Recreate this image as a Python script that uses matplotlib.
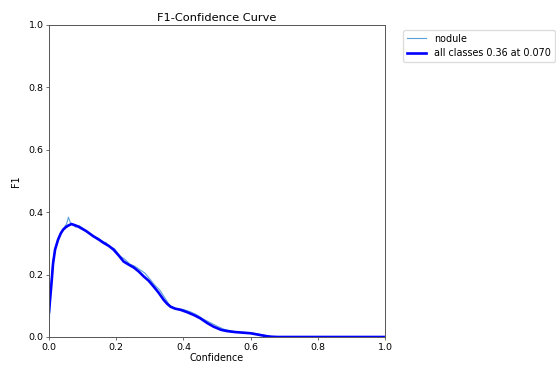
import matplotlib.pyplot as plt

# confidence thresholds and F1 values
conf_all = [0.0, 0.004, 0.008, 0.012, 0.018, 0.027, 0.035, 0.042, 0.05, 0.057, 0.067,
            0.078, 0.087, 0.11, 0.132, 0.15, 0.162, 0.178, 0.192, 0.207, 0.222, 0.237,
            0.252, 0.267, 0.282, 0.297, 0.312, 0.327, 0.342, 0.352, 0.362, 0.375,
            0.392, 0.41, 0.432, 0.45, 0.472, 0.49, 0.512, 0.53, 0.552, 0.575, 0.6,
            0.615, 0.63, 0.645, 0.66, 0.68, 0.75, 0.85, 1.0]
f1_all = [0.08, 0.13, 0.18, 0.235, 0.28, 0.312, 0.332, 0.344, 0.352, 0.357, 0.362,
          0.358, 0.354, 0.34, 0.323, 0.311, 0.302, 0.292, 0.28, 0.262, 0.242, 0.232,
          0.223, 0.21, 0.194, 0.18, 0.161, 0.141, 0.118, 0.106, 0.097, 0.091,
          0.087, 0.08, 0.07, 0.06, 0.044, 0.033, 0.023, 0.019, 0.016, 0.014, 0.012,
          0.009, 0.006, 0.003, 0.001, 0.0, 0.0, 0.0, 0.0]

conf_nod = [0.0, 0.003, 0.008, 0.012, 0.02, 0.028, 0.036, 0.045, 0.052, 0.058, 0.063,
            0.07, 0.08, 0.09, 0.1, 0.115, 0.13, 0.145, 0.16, 0.17, 0.18, 0.195,
            0.21, 0.225, 0.24, 0.255, 0.27, 0.285, 0.3, 0.315, 0.33, 0.345,
            0.36, 0.372, 0.385, 0.4, 0.42, 0.44, 0.46, 0.48, 0.5, 0.52, 0.55,
            0.58, 0.61, 0.63, 0.65, 0.665, 0.7, 0.85, 1.0]
f1_nod = [0.0, 0.12, 0.2, 0.245, 0.29, 0.318, 0.335, 0.35, 0.362, 0.384, 0.368,
          0.36, 0.352, 0.357, 0.349, 0.336, 0.322, 0.318, 0.306, 0.302, 0.29, 0.283,
          0.26, 0.25, 0.234, 0.227, 0.216, 0.205, 0.186, 0.166, 0.15, 0.125,
          0.1, 0.093, 0.09, 0.088, 0.081, 0.071, 0.057, 0.046, 0.035, 0.025, 0.018,
          0.015, 0.012, 0.008, 0.004, 0.0, 0.0, 0.0, 0.0]

series_labels = ['nodule', 'all classes 0.36 at 0.070']

plt.rcParams['font.family'] = 'DejaVu Sans'
plt.rcParams['font.size'] = 6.8

fig = plt.figure(figsize=(5.56, 3.67), dpi=100)
ax = fig.add_axes([49 / 556, 30 / 367, 336 / 556, 312 / 367])

ax.plot(conf_nod, f1_nod, linewidth=0.8, color='#5aa0d8', label=series_labels[0])
ax.plot(conf_all, f1_all, linewidth=1.9, color='blue', label=series_labels[1])

ax.set_xlim(0, 1)
ax.set_ylim(0, 1)
ax.set_xlabel('Confidence', fontsize=6.9, labelpad=1)
ax.set_ylabel('F1', fontsize=6.9, labelpad=5)
ax.set_title('F1-Confidence Curve', fontsize=8.2, pad=3)
ax.tick_params(labelsize=6.8, length=2.5, width=0.6, pad=1.5, color='#555555')
for s in ax.spines.values():
    s.set_linewidth(0.7)
    s.set_color('#555555')

ax.legend(bbox_to_anchor=(1.04, 1), loc='upper left', fontsize=6.9,
          handlelength=2.0, framealpha=1, edgecolor='#dddddd', borderpad=0.4)

fig.savefig('out.png', dpi=100)
